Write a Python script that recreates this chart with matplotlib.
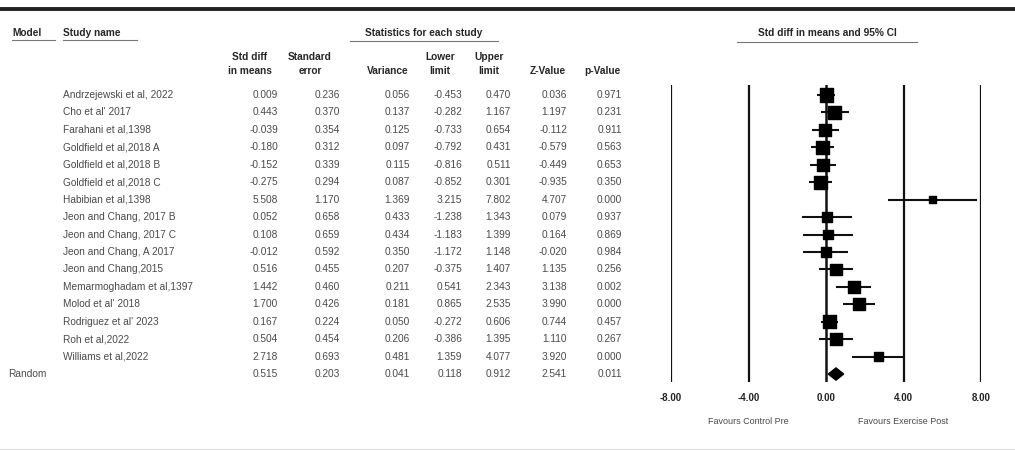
import numpy as np
import matplotlib.pyplot as plt

plt.rcParams['font.family'] = ['Liberation Sans', 'DejaVu Sans']

# Datos de los estudios
studies = ["Andrzejewski et al, 2022", "Cho et al' 2017", "Farahani et al,1398",
           "Goldfield et al,2018 A", "Goldfield et al,2018 B", "Goldfield et al,2018 C",
           "Habibian et al,1398", "Jeon and Chang, 2017 B", "Jeon and Chang, 2017 C",
           "Jeon and Chang, A 2017", "Jeon and Chang,2015", "Memarmoghadam et al,1397",
           "Molod et al' 2018", "Rodriguez et al' 2023", "Roh et al,2022", "Williams et al,2022"]
smd = [0.009, 0.443, -0.039, -0.180, -0.152, -0.275, 5.508, 0.052, 0.108, -0.012,
       0.516, 1.442, 1.700, 0.167, 0.504, 2.718]
se = [0.236, 0.370, 0.354, 0.312, 0.339, 0.294, 1.170, 0.658, 0.659, 0.592,
      0.455, 0.460, 0.426, 0.224, 0.454, 0.693]
var = [0.056, 0.137, 0.125, 0.097, 0.115, 0.087, 1.369, 0.433, 0.434, 0.350,
       0.207, 0.211, 0.181, 0.050, 0.206, 0.481]
lower = [-0.453, -0.282, -0.733, -0.792, -0.816, -0.852, 3.215, -1.238, -1.183, -1.172,
         -0.375, 0.541, 0.865, -0.272, -0.386, 1.359]
upper = [0.470, 1.167, 0.654, 0.431, 0.511, 0.301, 7.802, 1.343, 1.399, 1.148,
         1.407, 2.343, 2.535, 0.606, 1.395, 4.077]
zval = [0.036, 1.197, -0.112, -0.579, -0.449, -0.935, 4.707, 0.079, 0.164, -0.020,
        1.135, 3.138, 3.990, 0.744, 1.110, 3.920]
pval = [0.971, 0.231, 0.911, 0.563, 0.653, 0.350, 0.000, 0.937, 0.869, 0.984,
        0.256, 0.002, 0.000, 0.457, 0.267, 0.000]

# Resultado del modelo aleatorio
random_row = [0.515, 0.203, 0.041, 0.118, 0.912, 2.541, 0.011]

xticks = [-8, -4, 0, 4, 8]

# Pesos (DerSimonian-Laird) para el tamaño de los cuadrados
y = np.array(smd)
v = np.array(var)
w = 1 / v
q = np.sum(w * (y - np.sum(w * y) / np.sum(w)) ** 2)
tau2 = max(0, (q - (len(y) - 1)) / (np.sum(w) - np.sum(w ** 2) / np.sum(w)))
w_re = 1 / (v + tau2)
side = np.sqrt(w_re / w_re.max()) * 9.5  # en puntos

fig = plt.figure(figsize=(10.15, 4.5), dpi=100)

# Ejes para texto en coordenadas de pixel
tx = fig.add_axes([0, 0, 1, 1])
tx.set_xlim(0, 1015)
tx.set_ylim(450, 0)
tx.axis('off')

row0 = 95
step = 17.44
txt_col = '#4a4a4a'
hdr_col = '#262626'
fs = 7.3

tx.plot([0, 1015], [9, 9], color='#222222', lw=2.8)
tx.plot([0, 1015], [449, 449], color='#dddddd', lw=0.8)

tx.text(12, 33, "Model", fontsize=fs, fontweight='bold', color=hdr_col, va='center')
tx.plot([12, 55], [40, 40], color='#777777', lw=0.8)
tx.text(63, 33, "Study name", fontsize=fs, fontweight='bold', color=hdr_col, va='center')
tx.plot([63, 137], [40, 40], color='#777777', lw=0.8)
tx.text(424, 33, "Statistics for each study", fontsize=fs, fontweight='bold', color=hdr_col,
        va='center', ha='center')
tx.plot([350, 498], [41, 41], color='#777777', lw=0.8)
tx.text(827, 33, "Std diff in means and 95% CI", fontsize=fs, fontweight='bold', color=hdr_col,
        va='center', ha='center')
tx.plot([737, 917], [42, 42], color='#777777', lw=0.8)

col_right = [278, 340, 410, 462, 511, 567, 622]
headers = [("Std diff", "in means"), ("Standard", "error"), ("", "Variance"),
           ("Lower", "limit"), ("Upper", "limit"), ("", "Z-Value"), ("", "p-Value")]
hdr_center = [250, 310, None, 440, 489, None, None]
for xr, xc, (h1, h2) in zip(col_right, hdr_center, headers):
    if h1:
        tx.text(xc, 57, h1, fontsize=fs, fontweight='bold', color=hdr_col,
                ha='center', va='center')
        tx.text(xc, 71, h2, fontsize=fs, fontweight='bold', color=hdr_col,
                ha='center', va='center')
    else:
        tx.text(xr - 1, 71, h2, fontsize=fs, fontweight='bold', color=hdr_col,
                ha='right', va='center')

cols = [smd, se, var, lower, upper, zval, pval]
for i, name in enumerate(studies):
    yy = row0 + step * i
    tx.text(63, yy, name, fontsize=fs, color=txt_col, va='center')
    for xr, c in zip(col_right, cols):
        tx.text(xr, yy, f"{c[i]:.3f}", fontsize=fs, color=txt_col, ha='right', va='center')

yy = row0 + step * len(studies)
tx.text(8, yy, "Random", fontsize=fs, color=txt_col, va='center')
for xr, val in zip(col_right, random_row):
    tx.text(xr, yy, f"{val:.3f}", fontsize=fs, color=txt_col, ha='right', va='center')

# Gráfico de bosque
x_left, x_right = 671, 981
y_top, y_bot = 85, 382
ax = fig.add_axes([x_left / 1015, 1 - y_bot / 450,
                   (x_right - x_left) / 1015, (y_bot - y_top) / 450])
ax.set_xlim(-8, 8)
ax.set_ylim((y_bot - row0) / step, (y_top - row0) / step)
ax.patch.set_alpha(0)
for s in ax.spines.values():
    s.set_visible(False)

for xv in xticks:
    ax.axvline(xv, color='#111111', lw=1.8 if xv == 0 else 1.6, zorder=1)

rows = np.arange(len(studies))
ax.hlines(rows, lower, upper, color='#111111', lw=1.5, zorder=2)
ax.scatter(smd, rows, marker='s', s=side ** 2, color='black', zorder=3)

r = len(studies)
est, lo, hi = random_row[0], random_row[3], random_row[4]
ax.fill([lo, est, hi, est], [r, r - 0.35, r, r + 0.35], color='black', zorder=3)

ax.set_xticks(xticks)
ax.set_xticklabels([f"{t:.2f}" for t in xticks], fontsize=7, fontweight='bold', color='#222222')
ax.tick_params(axis='x', length=0, pad=8)
ax.set_yticks([])

tx.text(748, 421, "Favours Control Pre", fontsize=6.5, color=txt_col, ha='center', va='center')
tx.text(903, 421, "Favours Exercise Post", fontsize=6.5, color=txt_col, ha='center', va='center')

fig.savefig("out.png", dpi=100)
